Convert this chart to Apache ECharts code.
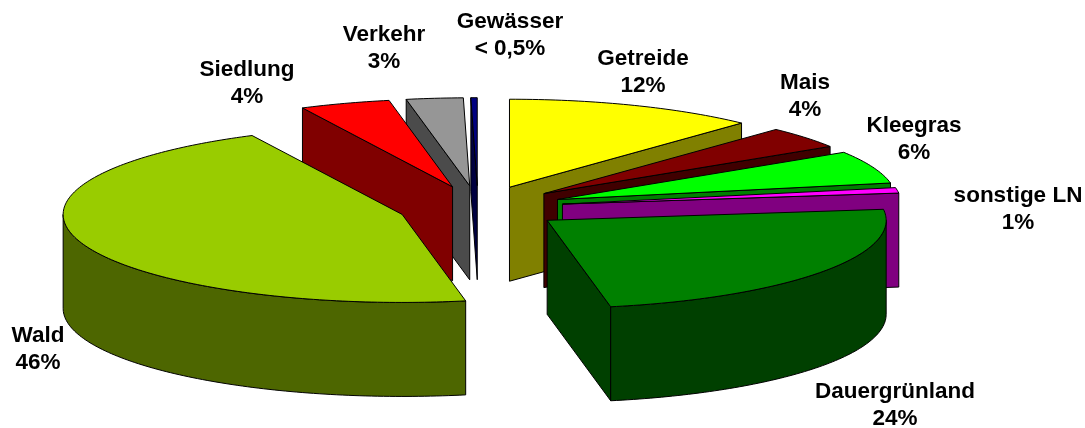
<!DOCTYPE html>
<html><head><meta charset="utf-8">
<style>html,body{margin:0;padding:0;background:#fff}#c{width:1085px;height:428px}</style>
<script src="https://cdn.jsdelivr.net/npm/echarts@6/dist/echarts.min.js"></script>
</head><body><div id="c"></div>
<script>
// Data, clockwise from 12 o'clock
const categories = ['Getreide','Mais','Kleegras','sonstige LN','Dauergrünland','Wald','Siedlung','Verkehr','Gewässer'];
const values = [12,4,6,1,24,45.7,4.3,2.7,0.3];
const valueLabels = ['12%','4%','6%','1%','24%','46%','4%','3%','< 0,5%'];
// Presentation
const topColors  = ['#FFFF00','#800000','#00FF00','#FF00FF','#008000','#99CC00','#FF0000','#969696','#000080'];
const wallColors = ['#808000','#400000','#008000','#800080','#004000','#4D6600','#800000','#4B4B4B','#000040'];
const labelCenters = [[643,72],[805,96],[914,139],[1018,209],[895,405],[38,349],[247,83],[384,48],[510,35]];
const view = {cx:478, cy:207.5, rx:339, ry:88, explodeRight:85.5, explodeLeft:80, explodeY:21.8, depth:94};

const total = values.reduce((a,b)=>a+b,0);
let run = 0;
const slices = values.map((v,i)=>{
  const start = run/total*360; run += v; const end = run/total*360;
  return {i, start, end, mid:(start+end)/2};
});
// painter's order: back of the pie first
const backDist = s => Math.min(s.mid, 360-s.mid);
const ordered = slices.slice().sort((a,b)=>backDist(a)-backDist(b));

const rad = d => d*Math.PI/180;
function renderItem(params, api){
  const s = ordered[params.dataIndex];
  const idx = s.i;
  const sx = Math.sin(rad(s.mid));
  const ox = view.cx + (sx>0?view.explodeRight:view.explodeLeft)*sx;
  const oy = view.cy - view.explodeY*Math.cos(rad(s.mid));
  const pt = d => [ox+view.rx*Math.sin(rad(d)), oy-view.ry*Math.cos(rad(d))];
  const down = p => [p[0], p[1]+view.depth];
  const style = c => ({fill:c, stroke:'#000', lineWidth:1, lineJoin:'round'});
  const poly = (points,c) => ({type:'polygon', shape:{points}, style:style(c)});
  const arc = (a,b) => { const r=[]; const n=Math.max(2,Math.ceil(Math.abs(b-a)));
    for(let k=0;k<=n;k++) r.push(pt(a+(b-a)*k/n)); return r; };
  const kids = [];
  const apex = [ox,oy];
  if (s.start>180) kids.push(poly([apex,pt(s.start),down(pt(s.start)),down(apex)],wallColors[idx]));
  if (s.end<180)   kids.push(poly([apex,pt(s.end),down(pt(s.end)),down(apex)],wallColors[idx]));
  const a=Math.max(s.start,90), b=Math.min(s.end,270);
  if (b>a){ const top=arc(a,b); kids.push(poly(top.concat(top.slice().reverse().map(down)),wallColors[idx])); }
  kids.push(poly([apex].concat(arc(s.start,s.end)),topColors[idx]));
  const lc = labelCenters[idx];
  kids.push({type:'text', z2:10, style:{
    text:categories[idx]+'\n'+valueLabels[idx], x:lc[0], y:lc[1], align:'center', verticalAlign:'middle',
    fontFamily:'"Liberation Sans",Arial,sans-serif', fontWeight:'bold', fontSize:22.5, lineHeight:27, fill:'#000'}});
  return {type:'group', children:kids};
}
const chart = echarts.init(document.getElementById('c'), null, {renderer:'canvas'});
chart.setOption({
  animation:false, backgroundColor:'#fff',
  series:[{type:'custom', coordinateSystem:'none', silent:true, renderItem,
    data: ordered.map(s=>({name:categories[s.i], value:[values[s.i]]}))}]
});
</script></body></html>
